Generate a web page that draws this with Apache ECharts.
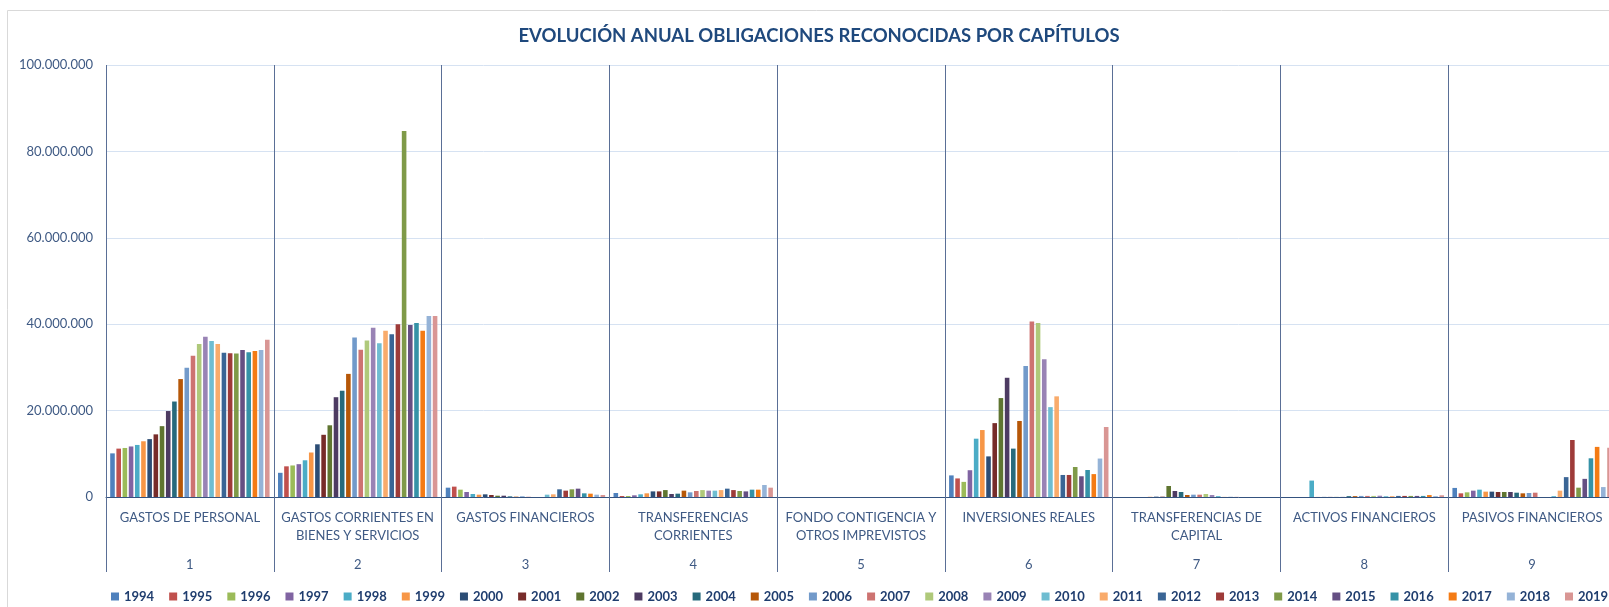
<!DOCTYPE html>
<html>
<head>
<meta charset="utf-8">
<title>Evolución anual obligaciones reconocidas por capítulos</title>
<script src="https://cdn.jsdelivr.net/npm/echarts@6/dist/echarts.min.js"></script>
<style>
html, body { margin: 0; padding: 0; background: #fff; overflow: hidden; }
/* el grafico original queda cortado por la derecha */
#chart { width: 1625px; height: 607px; }
</style>
</head>
<body>
<div id="chart"></div>
<script>
// capitulos del presupuesto
const chapterNums = ['1', '2', '3', '4', '5', '6', '7', '8', '9'];
const chapterNames = [
    'GASTOS DE PERSONAL',
    'GASTOS CORRIENTES EN\nBIENES Y SERVICIOS',
    'GASTOS FINANCIEROS',
    'TRANSFERENCIAS\nCORRIENTES',
    'FONDO CONTIGENCIA Y\nOTROS IMPREVISTOS',
    'INVERSIONES REALES',
    'TRANSFERENCIAS DE\nCAPITAL',
    'ACTIVOS FINANCIEROS',
    'PASIVOS FINANCIEROS'
];
const years = ['1994', '1995', '1996', '1997', '1998', '1999', '2000', '2001', '2002', '2003', '2004', '2005', '2006',
    '2007', '2008', '2009', '2010', '2011', '2012', '2013', '2014', '2015', '2016', '2017', '2018', '2019'];

// obligaciones reconocidas, millones de euros, 1994..2019
const cap1 = [10.1, 11.2, 11.35, 11.7, 12.05, 12.9, 13.4, 14.5, 16.4, 19.9, 22.1, 27.3, 29.9, 32.7, 35.4, 37.1, 36.1, 35.4, 33.4, 33.3, 33.2, 34.0, 33.5, 33.8, 34.05, 36.4];
const cap2 = [5.6, 7.1, 7.3, 7.6, 8.5, 10.3, 12.2, 14.4, 16.6, 23.1, 24.6, 28.5, 36.9, 34.1, 36.2, 39.2, 35.6, 38.5, 37.7, 40.0, 84.7, 39.8, 40.3, 38.5, 41.9, 41.9];
const cap3 = [2.16, 2.4, 1.7, 1.16, 0.7, 0.54, 0.62, 0.46, 0.3, 0.3, 0.15, 0.08, 0.15, 0.05, 0, 0, 0.54, 0.62, 1.78, 1.47, 1.78, 1.93, 0.85, 0.77, 0.54, 0.46];
const cap4 = [0.93, 0.23, 0.23, 0.39, 0.62, 0.85, 1.3, 1.3, 1.6, 0.7, 0.77, 1.47, 1.08, 1.39, 1.6, 1.47, 1.47, 1.6, 1.93, 1.6, 1.39, 1.3, 1.7, 1.7, 2.78, 2.16];
const cap5 = [0, 0, 0, 0, 0, 0, 0, 0, 0, 0, 0, 0, 0, 0, 0, 0, 0, 0, 0, 0, 0, 0, 0, 0, 0, 0];
const cap6 = [5.0, 4.3, 3.5, 6.2, 13.5, 15.5, 9.4, 17.1, 22.9, 27.6, 11.2, 17.6, 30.3, 40.6, 40.3, 31.9, 20.8, 23.3, 5.1, 5.1, 6.95, 4.8, 6.25, 5.3, 8.9, 16.2];
const cap7 = [0, 0, 0, 0, 0, 0.05, 0.08, 0.08, 2.55, 1.39, 1.16, 0.46, 0.54, 0.54, 0.7, 0.46, 0.23, 0.03, 0.03, 0.02, 0, 0, 0, 0, 0, 0];
const cap8 = [0, 0, 0, 0, 3.8, 0.02, 0.02, 0.02, 0.02, 0.02, 0.2, 0.2, 0.25, 0.25, 0.25, 0.3, 0.2, 0.2, 0.25, 0.25, 0.25, 0.25, 0.25, 0.45, 0.2, 0.4];
const cap9 = [2.1, 0.85, 1.08, 1.47, 1.7, 1.24, 1.24, 1.16, 1.16, 1.16, 1.0, 0.85, 0.93, 1.0, 0, 0, 0.23, 1.47, 4.6, 13.2, 2.16, 4.2, 8.96, 11.6, 2.3, 11.4];

const yearColors = ['#4F81BD', '#C0504D', '#9BBB59', '#8064A2', '#4BACC6', '#F79646', '#2C4D75', '#772C2A',
    '#5F7530', '#4D3B62', '#276A7C', '#B65708', '#729ACA', '#CD7371', '#AFC97A', '#9983B5', '#6FBDD1',
    '#F9AB6B', '#3A6595', '#9E3B39', '#7F9A48', '#654F83', '#3592A7', '#F47B14', '#95B3D7', '#D99694'];

const chapters = [cap1, cap2, cap3, cap4, cap5, cap6, cap7, cap8, cap9];

const fmtMiles = v => String(Math.round(v * 1000000)).replace(/\B(?=(\d{3})+(?!\d))/g, '.');

const myChart = echarts.init(document.getElementById('chart'));

// una serie por año, un valor por capitulo
const series = years.map((y, i) => ({
    name: y,
    type: 'bar',
    barGap: '35%',
    barCategoryGap: '5%',
    itemStyle: { color: yearColors[i] },
    data: chapters.map(c => c[i])
}));

const option = {
    animation: false,
    textStyle: { fontFamily: 'Lato' },
    title: {
        text: 'EVOLUCIÓN ANUAL OBLIGACIONES RECONOCIDAS POR CAPÍTULOS',
        left: 814,
        top: 22,
        textAlign: 'center',
        textStyle: { fontFamily: 'Lato', fontSize: 18.5, fontWeight: 'bold', color: '#1F497D' }
    },
    graphic: [{
        type: 'rect',
        shape: { x: 7.5, y: 10.5, width: 1700, height: 700 },
        style: { fill: 'none', stroke: '#D9D9D9', lineWidth: 1 },
        silent: true
    }],
    legend: {
        data: years,
        left: 106,
        top: 585,
        icon: 'rect',
        itemWidth: 8,
        itemHeight: 8,
        itemGap: 15,
        textStyle: { fontFamily: 'Lato', fontSize: 13, fontWeight: 'bold', color: '#1F3D6E' }
    },
    grid: { left: 106, right: 9, top: 65, bottom: 110, containLabel: false },
    xAxis: [{
        type: 'category',
        data: chapterNames,
        axisLine: { lineStyle: { color: '#34527F', width: 1 } },
        axisTick: { show: true, length: 75, interval: 0, lineStyle: { color: '#5A6F96' } },
        splitLine: { show: true, interval: 0, lineStyle: { color: '#5A6F96' } },
        axisLabel: {
            interval: 0,
            margin: 12,
            lineHeight: 18,
            verticalAlign: 'top',
            fontFamily: 'Lato',
            fontSize: 13,
            color: '#3F5A84'
        }
    }, {
        type: 'category',
        data: chapterNums,
        position: 'bottom',
        axisLine: { show: false },
        axisTick: { show: false },
        axisLabel: {
            interval: 0,
            margin: 61,
            verticalAlign: 'top',
            fontFamily: 'Lato',
            fontSize: 13,
            color: '#3F5A84'
        }
    }],
    yAxis: {
        type: 'value',
        min: 0,
        max: 100,
        interval: 20,
        axisLine: { show: false },
        axisTick: { show: false },
        splitLine: { lineStyle: { color: '#D6E2F2' } },
        axisLabel: {
            margin: 13,
            fontFamily: 'Lato',
            fontSize: 13,
            color: '#3F5A84',
            formatter: fmtMiles
        }
    },
    series: series
};

option && myChart.setOption(option);
</script>
</body>
</html>
